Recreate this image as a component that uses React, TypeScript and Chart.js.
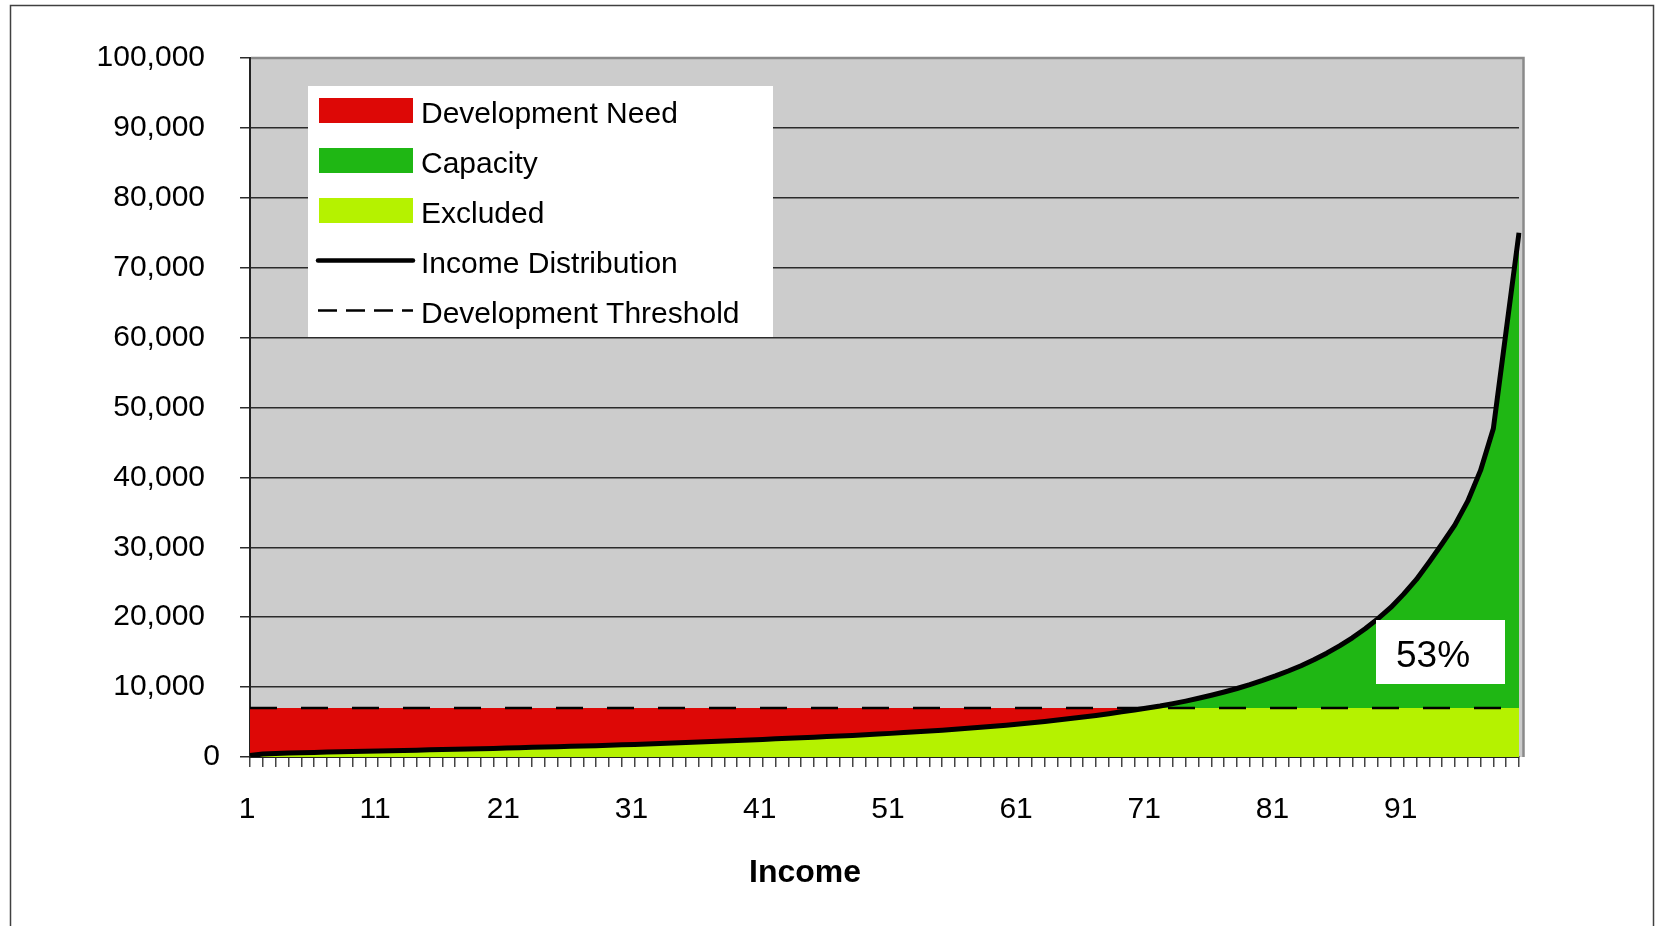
import { useEffect, useRef } from "react";
import { Chart, registerables } from "chart.js";

Chart.register(...registerables);

// Income percentiles along the x axis (1 = poorest, 100 = richest)
const percentiles = Array.from({ length: 100 }, (_, i) => i + 1);
const labeledPercentiles = [1, 11, 21, 31, 41, 51, 61, 71, 81, 91];

// Income at each percentile
const incomeDistribution = [
  200, 420, 500, 560, 610, 660, 700, 740, 780, 820,
  860, 900, 940, 980, 1020, 1060, 1100, 1140, 1180, 1220,
  1280, 1330, 1380, 1430, 1480, 1530, 1570, 1620, 1680, 1740,
  1800, 1870, 1940, 2010, 2080, 2150, 2220, 2290, 2360, 2440,
  2520, 2600, 2680, 2760, 2840, 2920, 3000, 3090, 3180, 3280,
  3380, 3490, 3600, 3720, 3840, 3970, 4100, 4240, 4390, 4550,
  4720, 4900, 5090, 5290, 5500, 5720, 5950, 6200, 6460, 6730,
  7010, 7300, 7640, 8000, 8400, 8830, 9300, 9800, 10350, 10950,
  11600, 12300, 13050, 13900, 14850, 15900, 17050, 18350, 19800, 21400,
  23300, 25400, 27900, 30500, 33200, 36600, 41000, 47000, 61000, 75000,
];

const developmentThreshold = 7000;
const capacityShare = "53%";
const axisTitle = "Income";

const RED = "#DD0806";
const GREEN = "#1FB714";
const LIME = "#B5F200";
const PLOT_BG = "#CCCCCC";
const FONT = "'Liberation Sans', Arial, Helvetica, sans-serif";

type LegendEntry = { label: string; kind: "box" | "solid" | "dashed"; color: string };
const legendEntries: LegendEntry[] = [
  { label: "Development Need", kind: "box", color: RED },
  { label: "Capacity", kind: "box", color: GREEN },
  { label: "Excluded", kind: "box", color: LIME },
  { label: "Income Distribution", kind: "solid", color: "#000" },
  { label: "Development Threshold", kind: "dashed", color: "#000" },
];

// Areas built by layering: capacity (top), need, excluded
const thresholdLine = percentiles.map(() => developmentThreshold);
const excludedTop = incomeDistribution.map((v) => Math.min(v, developmentThreshold));
const needTop = thresholdLine;
const capacityTop = incomeDistribution.map((v) => Math.max(v, developmentThreshold));

const decorations = {
  id: "decorations",
  beforeDraw(chart: Chart) {
    const { ctx, chartArea: a } = chart;
    ctx.save();
    ctx.fillStyle = "#ffffff";
    ctx.fillRect(0, 0, chart.width, chart.height);
    ctx.fillStyle = PLOT_BG;
    ctx.fillRect(a.left, a.top, a.right - a.left + 5, a.bottom - a.top);
    ctx.restore();
  },
  afterDraw(chart: Chart) {
    const { ctx, chartArea: a } = chart;
    const y = chart.scales.y;
    ctx.save();

    // plot frame on the top and right sides
    ctx.strokeStyle = "#8A8A8A";
    ctx.lineWidth = 2.5;
    ctx.beginPath();
    ctx.moveTo(a.left + 1, a.top);
    ctx.lineTo(a.right + 4.5, a.top);
    ctx.lineTo(a.right + 4.5, a.bottom);
    ctx.stroke();

    // outer chart frame
    ctx.strokeStyle = "#404040";
    ctx.lineWidth = 1.5;
    ctx.strokeRect(10.5, 5.5, 1643, 1000);

    // the zero label sits closer to the axis than the others
    ctx.fillStyle = "#000";
    ctx.font = `30px ${FONT}`;
    ctx.textAlign = "right";
    ctx.textBaseline = "middle";
    ctx.fillText("0", a.left - 30, y.getPixelForValue(0));

    // legend
    ctx.fillStyle = "#ffffff";
    ctx.fillRect(308, 86, 465, 251);
    ctx.textBaseline = "alphabetic";
    ctx.textAlign = "left";
    legendEntries.forEach((item, i) => {
      const cy = 110.5 + i * 50;
      if (item.kind === "box") {
        ctx.fillStyle = item.color;
        ctx.fillRect(319, cy - 12.5, 94, 25);
      } else {
        ctx.strokeStyle = item.color;
        ctx.beginPath();
        if (item.kind === "solid") {
          ctx.lineWidth = 4.5;
          ctx.lineCap = "round";
          ctx.setLineDash([]);
        } else {
          ctx.lineWidth = 2.5;
          ctx.lineCap = "butt";
          ctx.setLineDash([19, 9]);
        }
        ctx.moveTo(318, cy);
        ctx.lineTo(413, cy);
        ctx.stroke();
        ctx.setLineDash([]);
      }
      ctx.fillStyle = "#000";
      ctx.fillText(item.label, 421, cy + 12.5);
    });

    // capacity share label
    ctx.fillStyle = "#ffffff";
    ctx.fillRect(1376, 620, 129, 64);
    ctx.fillStyle = "#000";
    ctx.font = `37px ${FONT}`;
    ctx.fillText(capacityShare, 1396, 667);

    // x axis title
    ctx.font = `bold 32px ${FONT}`;
    ctx.textAlign = "center";
    ctx.fillText(axisTitle, 805, 882);

    ctx.restore();
  },
};

export default function App() {
  const canvasRef = useRef<HTMLCanvasElement | null>(null);

  useEffect(() => {
    const canvas = canvasRef.current;
    if (!canvas) return;
    const noPoints = { pointRadius: 0, pointHoverRadius: 0, tension: 0 };
    const chart = new Chart(canvas, {
      type: "line",
      data: {
        labels: percentiles.map(String),
        datasets: [
          {
            label: "Income Distribution",
            data: incomeDistribution,
            borderColor: "#000",
            borderWidth: 5,
            borderJoinStyle: "round",
            fill: false,
            ...noPoints,
          },
          {
            label: "Development Threshold",
            data: thresholdLine,
            borderColor: "#000",
            borderWidth: 2.5,
            borderDash: [27, 24],
            fill: false,
            ...noPoints,
          },
          {
            label: "Excluded",
            data: excludedTop,
            borderWidth: 0,
            borderColor: "rgba(0,0,0,0)",
            backgroundColor: LIME,
            fill: "origin",
            ...noPoints,
          },
          {
            label: "Development Need",
            data: needTop,
            borderWidth: 0,
            borderColor: "rgba(0,0,0,0)",
            backgroundColor: RED,
            fill: "origin",
            ...noPoints,
          },
          {
            label: "Capacity",
            data: capacityTop,
            borderWidth: 0,
            borderColor: "rgba(0,0,0,0)",
            backgroundColor: GREEN,
            fill: "origin",
            ...noPoints,
          },
        ],
      },
      options: {
        animation: false,
        responsive: false,
        maintainAspectRatio: false,
        devicePixelRatio: 1,
        events: [],
        layout: { padding: { top: 58, right: 137, left: 0, bottom: 0 } },
        plugins: {
          legend: { display: false },
          tooltip: { enabled: false },
          title: { display: false },
        },
        scales: {
          x: {
            type: "category",
            offset: false,
            grid: {
              drawOnChartArea: false,
              drawTicks: true,
              tickLength: 10,
              color: "#444444",
              lineWidth: 1.5,
            },
            border: { display: true, color: "#222222", width: 2 },
            ticks: {
              autoSkip: false,
              maxRotation: 0,
              minRotation: 0,
              padding: 25,
              labelOffset: -3,
              color: "#000",
              font: { family: FONT, size: 30 },
              callback: (_v: any, i: number) =>
                labeledPercentiles.includes(percentiles[i]) ? String(percentiles[i]) : "",
            },
            afterFit: (s: any) => {
              s.height = 169;
            },
          },
          y: {
            min: 0,
            max: 100000,
            grid: { color: "#2B2B2B", lineWidth: 1.5, tickLength: 10, drawTicks: true },
            border: { display: true, color: "#222222", width: 2 },
            ticks: {
              stepSize: 10000,
              padding: 35,
              color: "#000",
              font: { family: FONT, size: 30 },
              callback: (v: any) => (Number(v) === 0 ? "" : Number(v).toLocaleString("en-US")),
            },
            afterFit: (s: any) => {
              s.width = 250;
            },
          },
        },
      },
      plugins: [decorations],
    });
    return () => chart.destroy();
  }, []);

  return (
    <div style={{ position: "fixed", left: 0, top: 0, width: 1656, height: 926, background: "#fff" }}>
      <canvas
        ref={canvasRef}
        width={1656}
        height={926}
        style={{ display: "block", width: 1656, height: 926 }}
      />
    </div>
  );
}
